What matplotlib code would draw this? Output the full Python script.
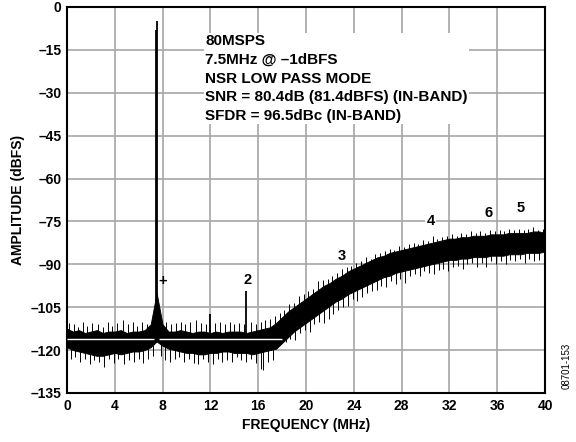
import matplotlib
matplotlib.use('Agg')
import matplotlib.pyplot as plt
import numpy as np

plt.rcParams['font.family'] = ['Liberation Sans', 'DejaVu Sans']
plt.rcParams['font.weight'] = 'bold'

# envelope of the noise trace, every 0.5 MHz
freq = [i * 0.5 for i in range(81)]
upper = [-112.5, -113.5, -113, -114, -113.5, -113, -114, -113.5, -113.5, -113,
         -114, -113.5, -113.5, -113, -111, -100, -111, -113.5, -113.5, -113,
         -113.5, -114, -113.5, -113.5, -114, -113.5, -114, -113.5, -113.5, -113.5,
         -114, -113.5, -113, -112.5, -112, -110.5, -108.5, -106.5, -105, -103.5,
         -102, -100.5, -99, -97.5, -96.5, -95, -94, -92.5, -91.5, -90.5,
         -89.5, -88.5, -87.5, -87, -86, -85.5, -85, -84.5, -84, -83.5,
         -83, -82.5, -82, -81.5, -81, -81, -80.5, -80.5, -80, -80,
         -80, -79.5, -79.5, -79.5, -79, -79, -79, -79, -78.5, -78.5, -79]
lower = [-119, -120, -120.5, -121, -121.5, -122, -122, -121.5, -121, -121.5,
         -121, -120.5, -120.5, -120, -119, -117, -118.5, -119.5, -120, -120.5,
         -121, -121, -121.5, -121.5, -121, -121, -120.5, -120.5, -121, -121,
         -121, -121.5, -121, -120.5, -120, -119.5, -117.5, -115.5, -113.5, -112,
         -110.5, -109, -107.5, -106, -104.5, -103, -102, -100.5, -99.5, -98.5,
         -97.5, -96.5, -95.5, -94.5, -94, -93, -92.5, -92, -91.5, -91,
         -90.5, -90, -89.5, -89, -88.5, -88.5, -88, -88, -87.5, -87.5,
         -87.5, -87, -87, -87, -86.5, -86.5, -86.5, -86, -86, -86, -85.5]

# spikes poking above the band (freq, top)
up_f = [0.2, 0.6, 0.9, 1.3, 1.7, 2.1, 2.6, 3.0, 3.4, 3.8, 4.2, 4.7, 5.1, 5.5, 5.9,
        6.3, 6.7, 7.1, 8.3, 8.7, 9.1, 9.5, 9.9, 10.3, 10.8, 11.2, 11.6, 12.4, 12.8,
        13.2, 13.6, 14.0, 14.4, 14.8, 15.4, 15.8, 16.2, 16.6, 17.0, 17.4,
        17.8, 18.2, 18.6, 19.0, 19.4, 19.8, 20.2, 20.6, 21.0, 21.4, 21.8, 22.2, 22.6,
        23.0, 23.4, 23.8, 24.2, 24.6, 25.0, 25.4, 25.8, 26.2, 26.6, 27.0, 27.4, 27.8,
        28.2, 28.6, 29.0, 29.4, 29.8, 30.2, 30.6, 31.0, 31.4, 31.8, 32.2, 32.6, 33.0,
        33.4, 33.8, 34.2, 34.6, 35.0, 35.4, 35.8, 36.2, 36.6, 37.0, 37.4, 37.8, 38.2,
        38.6, 39.0, 39.4, 39.8]
up_db = [-110.5, -111, -112, -110, -111.5, -110.5, -111, -112, -110, -111.5, -110.5,
         -109.5, -111, -110, -111.5, -110, -111, -109, -110, -111, -110.5, -110, -111,
         -110, -109.5, -110.5, -111, -110.5, -110, -111, -110, -111, -110.5, -111, -110,
         -111, -110, -109.5, -109, -108,
         -107, -106, -104, -103.5, -101, -100.5, -99.5, -98.5, -96, -95.5, -95, -94, -93,
         -91.5, -91, -90.5, -89.5, -89, -87.5, -88, -86.5, -86, -85.5, -84.5, -85, -83.5,
         -84, -83, -82.5, -83, -81.5, -82, -80, -81, -80.5, -80, -79.5, -80, -79,
         -79.5, -78.5, -79, -78.5, -79, -78, -78.5, -78, -78.5, -77.5, -78, -77.5, -78,
         -77.5, -77, -78, -77.5]

# spikes dropping below the band (freq, bottom)
down_f = [0.3, 0.7, 1.1, 1.5, 1.9, 2.3, 2.7, 3.1, 3.5, 3.9, 4.3, 4.8, 5.2, 5.6, 6.0,
          6.4, 6.8, 7.2, 7.9, 8.2, 8.6, 9.0, 9.4, 9.8, 10.2, 10.6, 11.0, 11.4, 11.8,
          12.2, 12.6, 13.0, 13.4, 13.8, 14.2, 14.6, 15.0, 15.4, 15.8, 16.2, 16.4, 16.8,
          17.2,
          17.9, 18.3, 18.7, 19.1, 19.5, 19.9, 20.3, 20.7, 21.1, 21.5, 21.9, 22.3, 22.7,
          23.1, 23.5, 23.9, 24.3, 24.7, 25.1, 25.5, 25.9, 26.3, 26.7, 27.1, 27.5, 27.9,
          28.3, 28.7, 29.1, 29.5, 29.9, 30.3, 30.7, 31.1, 31.5, 31.9, 32.3, 32.7, 33.1,
          33.5, 33.9, 34.3, 34.7, 35.1, 35.5, 35.9, 36.3, 36.7, 37.1, 37.5, 37.9, 38.3,
          38.7, 39.1, 39.5, 39.9]
down_db = [-123, -122.5, -124, -123, -125, -123.5, -124, -126, -123, -124.5, -123, -125,
           -123.5, -124, -123, -124.5, -123, -122, -122, -123.5, -124, -123, -122.5, -124,
           -123, -124.5, -125, -123, -124, -125, -123, -124, -123.5, -124, -122.5, -123.5,
           -124, -123, -124.5, -126.5, -127, -124, -123.5,
           -118, -117, -116, -116.5, -114, -113, -113.5, -111, -110, -110.5, -109, -107.5,
           -106, -105, -104.5, -102, -103, -101.5, -100, -99.5, -99, -97.5, -98, -96, -97,
           -95, -96.5, -94, -93.5, -94, -92.5, -93, -93.5, -92, -91.5, -92.5, -91, -90.5,
           -91.5, -90, -89.5, -91, -89.5, -91, -89, -90, -89, -90, -88.5, -89, -88, -89.5,
           -88, -89, -88.5, -93]

# discrete tones: carrier and spurs
tone_f = [7.5, 7.42, 12.0, 15.0]
tone_db = [-5, -8, -107.5, -99.5]

mean_floor = -116
labels = ['+', '2', '3', '4', '6', '5']
label_f = [8.0, 15.1, 23.0, 30.45, 35.25, 37.95]
label_db = [-96, -95.5, -87, -75, -72.2, -70.4]

info = ('80MSPS\n7.5MHz @ \u20131dBFS\nNSR LOW PASS MODE\n'
        'SNR = 80.4dB (81.4dBFS) (IN-BAND)\nSFDR = 96.5dBc (IN-BAND)')

fig = plt.figure(figsize=(5.76, 4.42), dpi=100)
ax = fig.add_axes([0.1163, 0.1109, 0.8299, 0.8733])

centre = (np.array(upper) + np.array(lower)) / 2

ax.fill_between(freq, lower, upper, color='black', linewidth=0.6, zorder=3)
ax.vlines(up_f, np.interp(up_f, freq, centre), up_db, color='black', linewidth=0.7, zorder=3)
ax.vlines(down_f, down_db, np.interp(down_f, freq, centre), color='black', linewidth=0.7, zorder=3)
ax.vlines(tone_f, -116, tone_db, color='black', linewidth=1.3, zorder=3)
ax.hlines(mean_floor, 0, 7.3, color='white', linewidth=1.0, zorder=4)
ax.hlines(mean_floor, 7.7, 18.0, color='white', linewidth=1.0, zorder=4)

for lab, f, d in zip(labels, label_f, label_db):
    ax.text(f, d, lab, ha='center', va='center', fontsize=10.5, fontweight='bold', zorder=5,
            bbox=dict(facecolor='white', edgecolor='none', pad=1) if lab == '4' else None)

ax.text(11.55, -9.6, info, ha='left', va='top', fontsize=11, fontweight='bold',
        linespacing=1.42, zorder=5,
        bbox=dict(facecolor='white', edgecolor='none', pad=1))

ax.set_xlim(0, 40)
ax.set_ylim(-135, 0)
ax.set_xticks(range(0, 41, 4))
ax.set_yticks(range(-135, 1, 15))
ax.set_yticklabels([str(v).replace('-', '\u2013') for v in range(-135, 1, 15)])
ax.tick_params(length=0, labelsize=10, pad=4)
for lab in ax.get_xticklabels() + ax.get_yticklabels():
    lab.set_fontweight('bold')
ax.grid(True, color='#a6a6a6', linewidth=1.2, zorder=0)
ax.set_axisbelow(True)
for s in ax.spines.values():
    s.set_linewidth(1.5)

ax.set_xlabel('FREQUENCY (MHz)', fontsize=10, fontweight='bold', labelpad=4)
ax.set_ylabel('AMPLITUDE (dBFS)', fontsize=10, fontweight='bold', labelpad=4)

fig.text(0.993, 0.12, '08701-153', rotation=90, fontsize=7, fontweight='normal',
         ha='right', va='bottom')

fig.savefig('out.png', dpi=100)
